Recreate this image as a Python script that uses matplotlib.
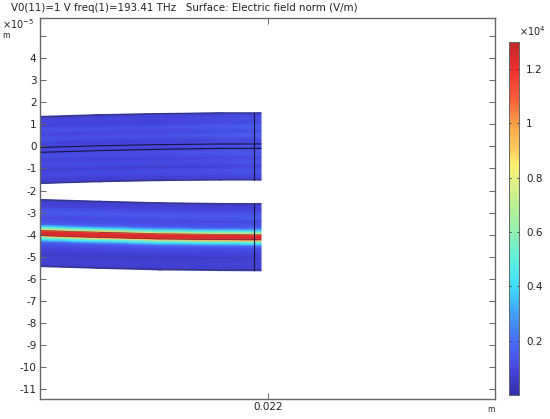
import numpy as np
import matplotlib
matplotlib.use("Agg")
import matplotlib.pyplot as plt
from matplotlib.colors import LinearSegmentedColormap

# ==================================================
# Data (y in 1e-5 m, field in 1e4 V/m)
# ==================================================

x_stations = [0.01972, 0.02032, 0.02092, 0.02152, 0.02193]
x_section = 0.02186

upper_top = [1.33, 1.42, 1.48, 1.51, 1.51]
upper_bottom = [-1.67, -1.58, -1.53, -1.51, -1.51]
upper_core_top = [-0.05, 0.03, 0.08, 0.11, 0.11]
upper_core_bottom = [-0.27, -0.19, -0.13, -0.09, -0.09]
upper_center = [-0.16, -0.08, -0.03, 0.0, 0.0]

lower_top = [-2.42, -2.50, -2.56, -2.60, -2.60]
lower_bottom = [-5.41, -5.50, -5.56, -5.59, -5.59]
lower_core_top = [-3.80, -3.88, -3.95, -3.98, -3.99]
lower_core_bottom = [-4.04, -4.12, -4.19, -4.22, -4.23]
lower_center = [-3.92, -4.00, -4.07, -4.10, -4.11]

upper_offsets = [-1.52, -1.3, -1.1, -0.9, -0.7, -0.5, -0.3, -0.1, 0.1, 0.3, 0.5, 0.7, 0.9, 1.1, 1.3, 1.52]
upper_field = [0.06, 0.08, 0.11, 0.07, 0.11, 0.08, 0.12, 0.09, 0.10, 0.08, 0.13, 0.09, 0.13, 0.08, 0.10, 0.06]
upper_scale = [1.0, 1.0, 1.0, 1.15, 1.25]

lower_offsets = [-1.52, -1.2, -0.95, -0.7, -0.5, -0.4, -0.3, -0.22, -0.15, -0.1, 0.0, 0.1, 0.15, 0.22, 0.3, 0.4,
                 0.5, 0.7, 0.95, 1.2, 1.52]
lower_field = [0.06, 0.08, 0.06, 0.09, 0.13, 0.18, 0.40, 0.52, 0.9, 1.2, 1.26, 1.2, 0.9, 0.58, 0.40, 0.18,
               0.13, 0.10, 0.15, 0.09, 0.06]
lower_scale = [1.0, 1.0, 1.0, 1.0, 1.05]

y_ticks = [5, 4, 3, 2, 1, 0, -1, -2, -3, -4, -5, -6, -7, -8, -9, -10, -11]
y_labels = ["", "4", "3", "2", "1", "0", "-1", "-2", "-3", "-4", "-5", "-6", "-7", "-8", "-9", "-10", "-11"]
x_ticks = [0.022]
x_labels = ["0.022"]
cbar_ticks = [0.2, 0.4, 0.6, 0.8, 1.0, 1.2]
cbar_labels = ["0.2", "0.4", "0.6", "0.8", "1", "1.2"]

title = "V0(11)=1 V freq(1)=193.41 THz   Surface: Electric field norm (V/m)"

cmap = LinearSegmentedColormap.from_list("comsol_rainbow", [
    (0.00, "#3030a8"), (0.07, "#4646e0"), (0.154, "#4a70f8"), (0.24, "#40a8f8"),
    (0.31, "#40e0fa"), (0.385, "#60f0e0"), (0.46, "#90f0b0"), (0.55, "#c0f090"),
    (0.615, "#e8f080"), (0.654, "#fff070"), (0.69, "#fdd060"), (0.77, "#fba048"),
    (0.84, "#f8603a"), (0.923, "#ee3030"), (1.00, "#c02828"),
])

AXIS_GRAY = "#666666"
LINE = "#14143c"
EDGE = "#34345c"
TEXT = "#222222"

# ==================================================
# Plot
# ==================================================

def draw_block(ax, offsets, field, scale, center, top, bottom):
    x = np.array(x_stations)
    off = np.array(offsets)
    X = np.tile(x, (len(off), 1))
    Y = np.array(center)[None, :] + off[:, None]
    C = np.outer(field, np.ones(len(x)))
    # red core keeps its level along the guide, only the background changes
    C = np.where(C < 0.3, C * np.array(scale)[None, :], C)
    ax.pcolormesh(X, Y, C, shading="gouraud", cmap=cmap, vmin=0, vmax=1.3, rasterized=True)
    ax.plot(x, top, color=EDGE, lw=0.6)
    ax.plot(x, bottom, color=EDGE, lw=0.6)
    ax.plot([x_section, x_section], [bottom[-1], top[-1]], color=LINE, lw=0.8)


plt.rcParams["axes.unicode_minus"] = False
plt.rcParams["font.family"] = "DejaVu Sans"

fig = plt.figure(figsize=(5.5, 4.19), dpi=100)
ax = fig.add_axes([40 / 550, 20 / 419, 455 / 550, 381 / 419])

draw_block(ax, upper_offsets, upper_field, upper_scale, upper_center, upper_top, upper_bottom)
draw_block(ax, lower_offsets, lower_field, lower_scale, lower_center, lower_top, lower_bottom)
ax.plot(x_stations, upper_core_top, color=LINE, lw=0.8)
ax.plot(x_stations, upper_core_bottom, color=LINE, lw=0.8)
ax.plot(x_stations, lower_core_top, color=LINE, lw=0.4, alpha=0.7)
ax.plot(x_stations, lower_core_bottom, color=LINE, lw=0.4, alpha=0.7)

ax.set_xlim(0.01972, 0.02427)
ax.set_ylim(-11.43, 5.81)
ax.set_yticks(y_ticks)
ax.set_yticklabels(y_labels)
ax.set_xticks(x_ticks)
ax.set_xticklabels(x_labels)
ax.tick_params(direction="in", length=4, width=0.7, color=AXIS_GRAY, labelsize=7.5,
               labelcolor=TEXT, top=True, right=True, pad=2.5)
for spine in ax.spines.values():
    spine.set_color(AXIS_GRAY)
    spine.set_linewidth(1.0)

fig.text(11 / 550, 1 - 8 / 419, title, fontsize=7.4, color=TEXT, va="center", ha="left")
fig.text(2 / 550, 1 - 24 / 419, r"$\times\mathregular{10^{-5}}$", fontsize=7, color=TEXT, va="center")
fig.text(2 / 550, 1 - 36 / 419, "m", fontsize=5.5, color=TEXT, va="center")
fig.text(491 / 550, 1 - 409 / 419, "m", fontsize=5.5, color=TEXT, va="center", ha="center")

# ---------- Colorbar ----------
cax = fig.add_axes([509 / 550, (419 - 395) / 419, 10 / 550, 353 / 419])
gradient = np.linspace(0, 1.3, 256)[:, None]
cax.imshow(gradient, origin="lower", aspect="auto", cmap=cmap, vmin=0, vmax=1.3, extent=[0, 1, 0, 1.3])
cax.set_xticks([])
cax.yaxis.tick_right()
cax.set_yticks(cbar_ticks)
cax.set_yticklabels(cbar_labels)
cax.tick_params(direction="in", length=1.5, width=0.7, color="#333333", labelsize=7.5,
                labelcolor=TEXT, pad=5, left=True, right=True)
for spine in cax.spines.values():
    spine.set_color(AXIS_GRAY)
    spine.set_linewidth(0.7)
fig.text(519 / 550, 1 - 31 / 419, r"$\times\mathregular{10^{4}}$", fontsize=7, color=TEXT, va="center", ha="left")

fig.savefig("out.png", dpi=100)
